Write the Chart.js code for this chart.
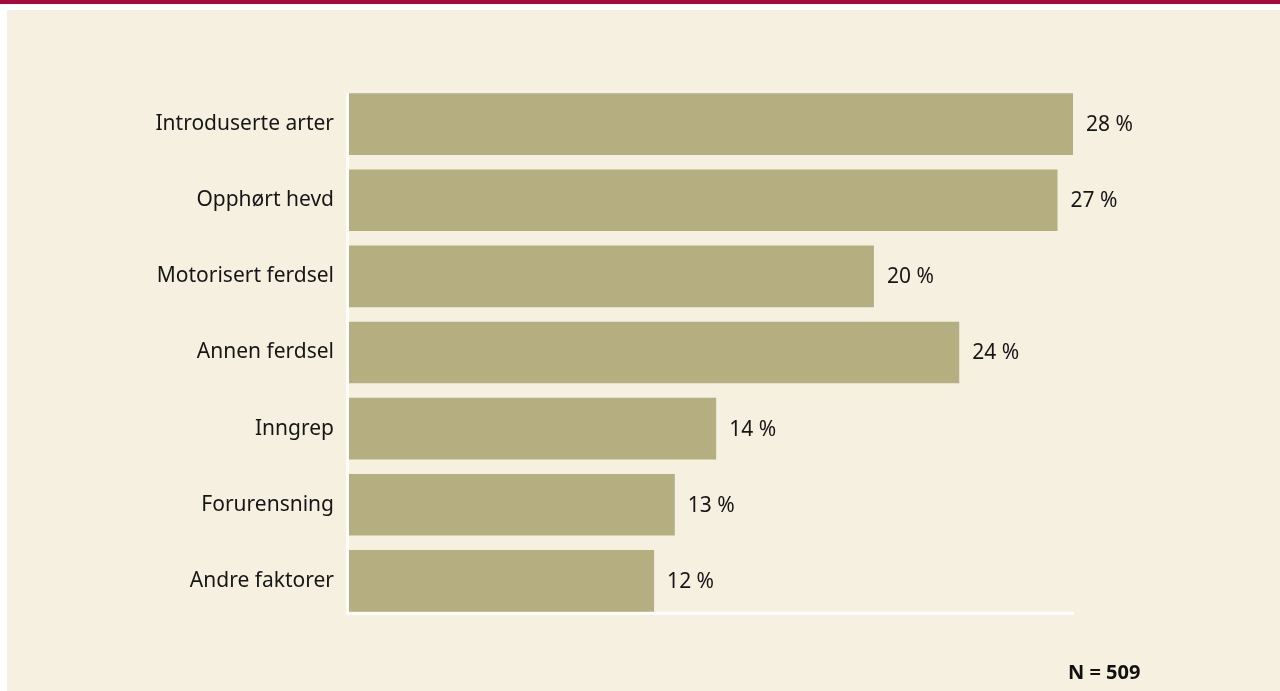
<!DOCTYPE html>
<html>
<head>
<meta charset="utf-8">
<script src="https://cdn.jsdelivr.net/npm/chart.js@4/dist/chart.umd.min.js"></script>
<style>
  html, body { margin: 0; padding: 0; background: #ffffff; }
  #wrap { position: relative; width: 1280px; height: 691px; overflow: hidden; }
  #topbar { position: absolute; left: 0; top: 0; width: 1280px; height: 4px; background: #a6093d; }
  #panel { position: absolute; left: 7px; top: 10px; right: 0; bottom: 0; background: #f6f0e1; }
  #chart { position: absolute; left: 0; top: 0; }
  #note { position: absolute; left: 1068px; top: 658px; line-height: 22px; font: bold 20px "Noto Sans", sans-serif; color: #111; }
</style>
</head>
<body>
<div id="wrap">
  <div id="topbar"></div>
  <div id="panel"></div>
  <canvas id="chart" width="1280" height="691"></canvas>
  <div id="note">N = 509</div>
</div>
<script>
'use strict'

// data (bar lengths, labels as printed)
var categories = ['Introduserte arter', 'Opphørt hevd', 'Motorisert ferdsel', 'Annen ferdsel', 'Inngrep', 'Forurensning', 'Andre faktorer'];
var shares = [28, 27.4, 20.3, 23.6, 14.2, 12.6, 11.8];
var shareLabels = ['28 %', '27 %', '20 %', '24 %', '14 %', '13 %', '12 %'];

var barColor = '#b5ae80';
var textColor = '#161616';
var fontFamily = '"Noto Sans", sans-serif';

// white axis lines, drawn under the bars
var axisLines = {
    id: 'axisLines',
    beforeDatasetsDraw: function (chart) {
        var ctx = chart.ctx;
        var bars = chart.getDatasetMeta(0).data;
        var x0 = chart.scales.x.getPixelForValue(0);
        var top = bars[0].y - bars[0].height / 2;
        var last = bars[bars.length - 1];
        var bottom = last.y + last.height / 2;
        ctx.save();
        ctx.fillStyle = '#ffffff';
        ctx.fillRect(x0 - 3, top, 3, bottom - top + 3);
        ctx.fillRect(x0 - 3, bottom, chart.scales.x.right - x0 + 4, 3);
        ctx.restore();
    }
};

// value labels at the end of each bar
var valueLabels = {
    id: 'valueLabels',
    afterDatasetsDraw: function (chart) {
        var ctx = chart.ctx;
        ctx.save();
        ctx.font = '21px ' + fontFamily;
        ctx.fillStyle = textColor;
        ctx.textAlign = 'left';
        ctx.textBaseline = 'middle';
        chart.getDatasetMeta(0).data.forEach(function (bar, i) {
            ctx.fillText(shareLabels[i], bar.x + 13, bar.y + 1);
        });
        ctx.restore();
    }
};

new Chart(document.getElementById('chart'), {
    type: 'bar',
    data: {
        labels: categories,
        datasets: [{
            data: shares,
            backgroundColor: barColor,
            borderWidth: 0,
            barPercentage: 0.81,
            categoryPercentage: 1
        }]
    },
    options: {
        indexAxis: 'y',
        responsive: false,
        animation: false,
        events: [],
        layout: { padding: { top: 86, bottom: 72, right: 207, left: 0 } },
        plugins: { legend: { display: false }, tooltip: { enabled: false } },
        scales: {
            x: { display: false, min: 0, max: 28 },
            y: {
                grid: { display: false, drawTicks: false },
                border: { display: false },
                ticks: { padding: 15, color: textColor, font: { family: fontFamily, size: 21 } },
                afterFit: function (scale) { scale.width = 349; }
            }
        }
    },
    plugins: [axisLines, valueLabels]
});
</script>
</body>
</html>
